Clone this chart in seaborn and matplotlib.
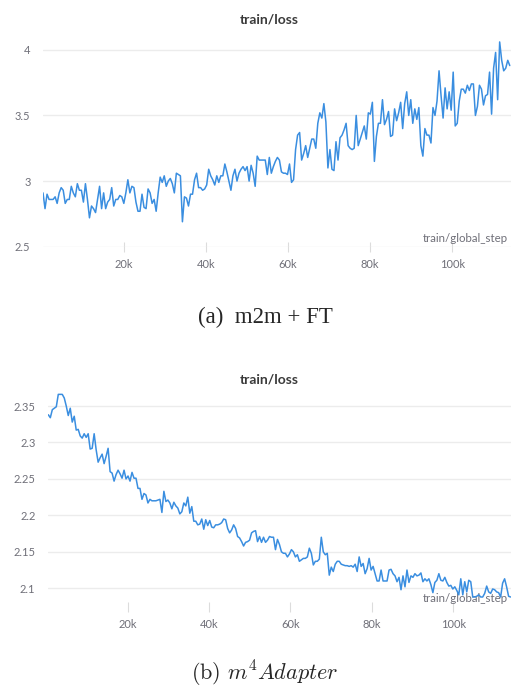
import numpy as np
import matplotlib
matplotlib.use('Agg')
import matplotlib.pyplot as plt
from matplotlib.ticker import FuncFormatter, FixedLocator
import seaborn as sns

#%% data read off the two W&B panels
loss_a = [2.91, 2.79, 2.90, 2.86, 2.86, 2.86, 2.88, 2.83, 2.91, 2.95, 2.93, 2.83, 2.86, 2.86, 2.96, 2.91,
          2.88, 2.98, 2.93, 2.93, 2.84, 2.98, 2.86, 2.72, 2.81, 2.79, 2.76, 2.86, 2.96, 2.79, 2.91, 2.79,
          2.84, 2.86, 2.95, 2.81, 2.86, 2.86, 2.89, 2.88, 2.83, 2.91, 3.01, 2.91, 2.96, 2.95, 2.84, 2.77,
          2.77, 2.90, 2.80, 2.79, 2.94, 2.91, 2.83, 2.86, 2.77, 2.91, 3.03, 2.99, 3.04, 2.96, 3.00, 3.02,
          2.98, 2.91, 3.06, 3.05, 3.04, 2.69, 2.88, 2.87, 2.81, 2.90, 2.90, 3.01, 3.06, 2.95, 2.95, 2.93,
          2.94, 2.97, 3.09, 3.04, 3.01, 2.97, 3.04, 2.99, 3.04, 3.04, 3.13, 3.07, 3.00, 2.93, 3.04, 3.09,
          3.00, 3.06, 3.09, 3.11, 3.08,
          3.11, 3.00, 3.12, 3.06, 2.96, 3.19, 3.16, 3.16, 3.16, 3.16, 3.05, 3.18, 3.06, 3.11, 3.15, 3.18,
          3.16, 3.07, 3.06, 3.06, 3.05, 3.13, 2.99, 3.01, 3.24, 3.35, 3.37, 3.16, 3.21, 3.27, 3.18, 3.25,
          3.32, 3.32, 3.25, 3.44, 3.52, 3.48, 3.59, 3.45, 3.10, 3.24, 3.09, 3.08, 3.30, 3.16, 3.33, 3.35,
          3.39, 3.44, 3.27, 3.25, 3.24, 3.25, 3.50, 3.27, 3.32, 3.37, 3.42, 3.32, 3.52, 3.51, 3.60, 3.15,
          3.34, 3.44, 3.44, 3.62, 3.43, 3.47, 3.53, 3.34, 3.35, 3.55, 3.46, 3.52, 3.60, 3.40, 3.59, 3.68,
          3.50, 3.62, 3.44, 3.55, 3.47, 3.56, 3.27, 3.19, 3.40, 3.35, 3.35, 3.29, 3.56, 3.50, 3.61, 3.84,
          3.65, 3.48, 3.71, 3.55, 3.68, 3.54, 3.83, 3.42, 3.44, 3.61, 3.70, 3.70, 3.67, 3.73, 3.69, 3.74,
          3.74, 3.50, 3.57, 3.73, 3.70, 3.58, 3.65, 3.66, 3.83, 3.51, 3.86, 3.98, 3.62, 4.06, 3.92, 3.84,
          3.86, 3.92, 3.88]

loss_b = [2.338, 2.334, 2.345, 2.347, 2.349, 2.366, 2.366, 2.366, 2.361, 2.350, 2.337, 2.347, 2.328,
          2.336, 2.317, 2.318, 2.309, 2.306, 2.312, 2.307, 2.312, 2.291, 2.292, 2.312, 2.290, 2.273,
          2.279, 2.284, 2.271, 2.281, 2.292, 2.260, 2.258, 2.247, 2.256, 2.262, 2.257, 2.251, 2.262,
          2.250, 2.254, 2.247, 2.259, 2.251, 2.251, 2.237, 2.237, 2.222, 2.230, 2.228, 2.217, 2.222,
          2.220, 2.220, 2.220, 2.221, 2.222, 2.204, 2.233, 2.219, 2.221, 2.217, 2.209, 2.218, 2.213,
          2.210, 2.202, 2.205, 2.217, 2.213, 2.225, 2.203, 2.212, 2.192, 2.192, 2.187, 2.188, 2.195,
          2.181, 2.194, 2.186, 2.193, 2.184, 2.183, 2.187, 2.187, 2.188, 2.190, 2.195, 2.194, 2.182,
          2.176, 2.180, 2.187, 2.182, 2.171, 2.169, 2.164, 2.158, 2.163, 2.164, 2.166,
          2.176, 2.178, 2.179, 2.164, 2.171, 2.163, 2.170, 2.163, 2.166, 2.171, 2.170, 2.170, 2.153,
          2.167, 2.160, 2.150, 2.148, 2.148, 2.143, 2.147, 2.153, 2.150, 2.143, 2.146, 2.137, 2.139,
          2.141, 2.141, 2.143, 2.155, 2.148, 2.132, 2.137, 2.137, 2.140, 2.170, 2.150, 2.146, 2.148,
          2.118, 2.129, 2.123, 2.133, 2.137, 2.137, 2.133, 2.132, 2.131, 2.131, 2.130, 2.131, 2.129,
          2.133, 2.123, 2.143, 2.130, 2.134, 2.120, 2.127, 2.141, 2.125, 2.130, 2.120, 2.110, 2.110,
          2.125, 2.110, 2.110, 2.110, 2.125, 2.126, 2.120, 2.117, 2.109, 2.115, 2.098, 2.117, 2.102,
          2.125, 2.108, 2.117, 2.115, 2.120, 2.117, 2.118, 2.121, 2.109, 2.113, 2.110, 2.113, 2.105,
          2.094, 2.108, 2.111, 2.120, 2.111, 2.110, 2.115, 2.108, 2.103, 2.104, 2.099, 2.102, 2.097,
          2.091, 2.113, 2.091, 2.109, 2.095, 2.111, 2.109, 2.088, 2.088, 2.089, 2.091, 2.088, 2.088,
          2.093, 2.103, 2.095, 2.093, 2.099, 2.098, 2.095, 2.094, 2.088, 2.107, 2.113, 2.102, 2.089,
          2.088]

# logged global steps (regular logging interval)
steps_a = np.linspace(400, 114000, len(loss_a))
steps_b = np.linspace(500, 114100, len(loss_b))

xticks   = [20000, 40000, 60000, 80000, 100000]
yticks_a = [2.5, 3, 3.5, 4]
yticks_b = [2.1, 2.15, 2.2, 2.25, 2.3, 2.35]

captions = ['(a)  m2m + FT', r'$\mathrm{(b)}\ m^4Adapter$']

#%% style
sns.set_theme(style='white')
plt.rcParams['font.family'] = ['Lato', 'DejaVu Sans']
plt.rcParams['mathtext.fontset'] = 'cm'

line_col = '#3a8ee0'
grid_col = '#ececec'
tick_col = '#6f6f78'

fig = plt.figure(figsize=(5.11, 6.88), dpi=100)
W, H = 511, 688

def px_axes(l, t, r, b):
    return fig.add_axes([l / W, 1 - b / H, (r - l) / W, (b - t) / H])

ax_a = px_axes(43, 38, 511, 246.7)
ax_b = px_axes(48, 390, 511, 607)

panels = [(ax_a, steps_a, loss_a, yticks_a, (2.5, 4.09), (400, 114300), 19),
          (ax_b, steps_b, loss_b, yticks_b, (2.0743, 2.372), (420, 114200), 379)]

for ax, xs, ys, yt, ylim, xlim, ty in panels:
    sns.lineplot(x=xs, y=ys, ax=ax, color=line_col, linewidth=1.1, zorder=3)
    ax.set_ylim(*ylim)
    ax.set_xlim(*xlim)
    ax.yaxis.set_major_locator(FixedLocator(yt))
    ax.xaxis.set_major_locator(FixedLocator(xticks))
    ax.yaxis.set_major_formatter(FuncFormatter(lambda v, p: '%g' % v))
    ax.xaxis.set_major_formatter(FuncFormatter(lambda v, p: '%dk' % (v / 1000)))
    for s in ax.spines.values():
        s.set_visible(False)
    for y in yt:
        ax.axhline(y, color=grid_col, linewidth=1.0, zorder=1)
    ax.tick_params(axis='y', length=0, pad=9, labelsize=8, labelcolor=tick_col)
    ax.tick_params(axis='x', direction='inout', length=7, width=0.8, color='#dcdcdc',
                   pad=5, labelsize=8, labelcolor=tick_col, bottom=True)
    ax.set_xlabel('')
    ax.set_ylabel('')
    fig.text(269 / W, 1 - ty / H, 'train/loss', ha='center', va='center', fontsize=10,
             fontweight='bold', color='#3b3b3b')
    ax.text(0.993, 0.015, 'train/global_step', transform=ax.transAxes, ha='right', va='bottom',
            fontsize=8.3, color=tick_col, zorder=2)

fig.text(265 / W, 1 - 317 / H, captions[0], ha='center', va='center', fontsize=16.5,
         family='Liberation Serif')
fig.text(265 / W, 1 - 674 / H, captions[1], ha='center', va='center', fontsize=16)

fig.savefig('out.png', dpi=100)
